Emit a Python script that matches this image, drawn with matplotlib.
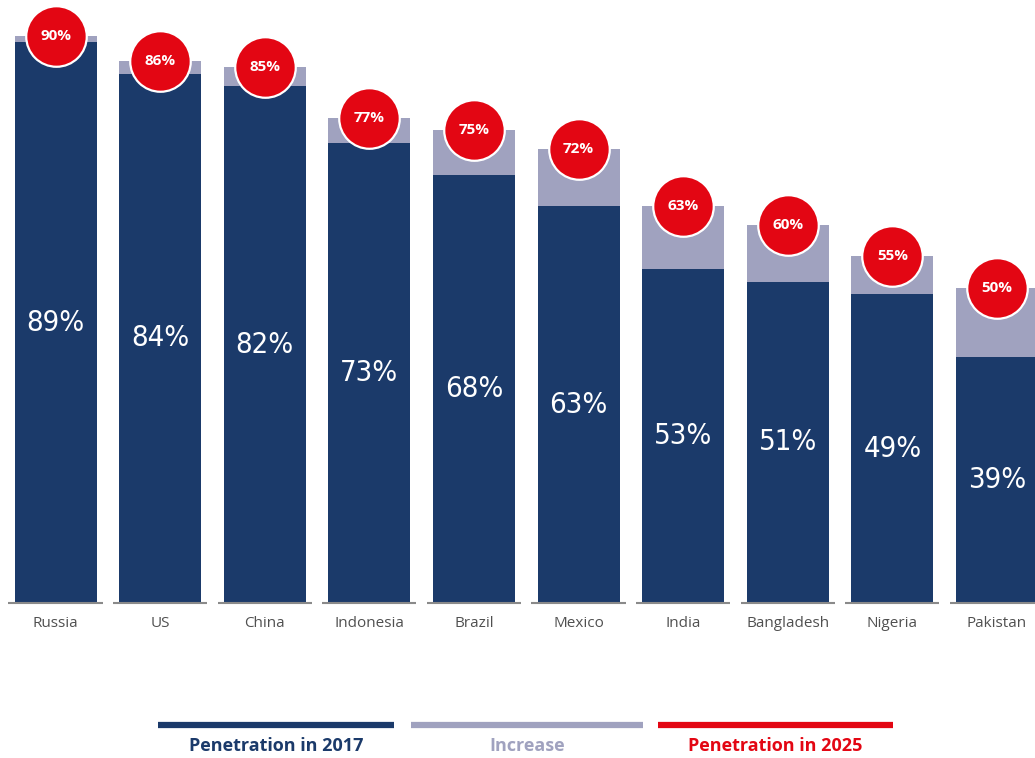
import matplotlib.pyplot as plt
from matplotlib.lines import Line2D
from matplotlib import font_manager
import numpy as np

countries = ['Russia', 'US', 'China', 'Indonesia', 'Brazil', 'Mexico',
             'India', 'Bangladesh', 'Nigeria', 'Pakistan']
pen_2017 = [89, 84, 82, 73, 68, 63, 53, 51, 49, 39]
pen_2025 = [90, 86, 85, 77, 75, 72, 63, 60, 55, 50]
legend_labels = ['Penetration in 2017', 'Increase', 'Penetration in 2025']

navy = '#1b3a6a'
lilac = '#a0a2bf'
red = '#e30613'

names = sorted({(f.name, f.stretch, f.weight) for f in font_manager.fontManager.ttflist
                if 'ondens' in f.name or 'arrow' in f.name or f.stretch != 'normal'})
print(names)

fig = plt.figure(figsize=(10.35, 7.58), dpi=100)
ax = fig.add_axes([0, 155 / 758, 1, 603 / 758])

x = np.arange(len(countries))
p17 = np.array(pen_2017)
p25 = np.array(pen_2025)
w = 0.784

ax.bar(x, p17, width=w, color=navy, zorder=2)
ax.bar(x, p25 - p17, bottom=p17, width=w, color=lilac, zorder=2)

# short grey base line under every bar
for xi in x:
    ax.plot([xi - 0.45, xi + 0.45], [0, 0], color='#8a8a8a', lw=1.5,
            clip_on=False, zorder=3, solid_capstyle='butt')

# 2017 value inside the dark bar
for xi, v in zip(x, p17):
    ax.text(xi, v / 2, f'{v}%', ha='center', va='center', color='white',
            fontsize=21, family='DejaVu Sans', stretch='condensed',
            zorder=4)

# 2025 value in a red badge at the top of the bar
ax.scatter(x, p25, s=1900, color=red, edgecolors='white', linewidths=1.6,
           zorder=5, clip_on=False)
for xi, v in zip(x, p25):
    ax.text(xi, v, f'{v}%', ha='center', va='center', color='white',
            fontsize=11, fontweight='bold', family='Open Sans', zorder=6)

# country names
for xi, c in zip(x, countries):
    ax.text(xi, -2.0, c, ha='center', va='top', color='#505050',
            fontsize=11, family='Open Sans')

ax.set_xlim(-0.531, 9.364)
ax.set_ylim(0, 95.7)
ax.axis('off')

# legend bars with captions
legend_cols = [navy, lilac, red]
spans = [(158, 394), (411, 643), (658, 893)]
for (x0, x1), col, lab in zip(spans, legend_cols, legend_labels):
    fig.add_artist(Line2D([x0 / 1035, x1 / 1035], [1 - 725 / 758] * 2,
                          color=col, lw=4.5, solid_capstyle='butt'))
    fig.text((x0 + x1) / 2 / 1035, 1 - 746 / 758, lab, ha='center',
             va='center', color=col, fontsize=13, fontweight='bold',
             family='Open Sans')

fig.savefig('out.png', dpi=100)
